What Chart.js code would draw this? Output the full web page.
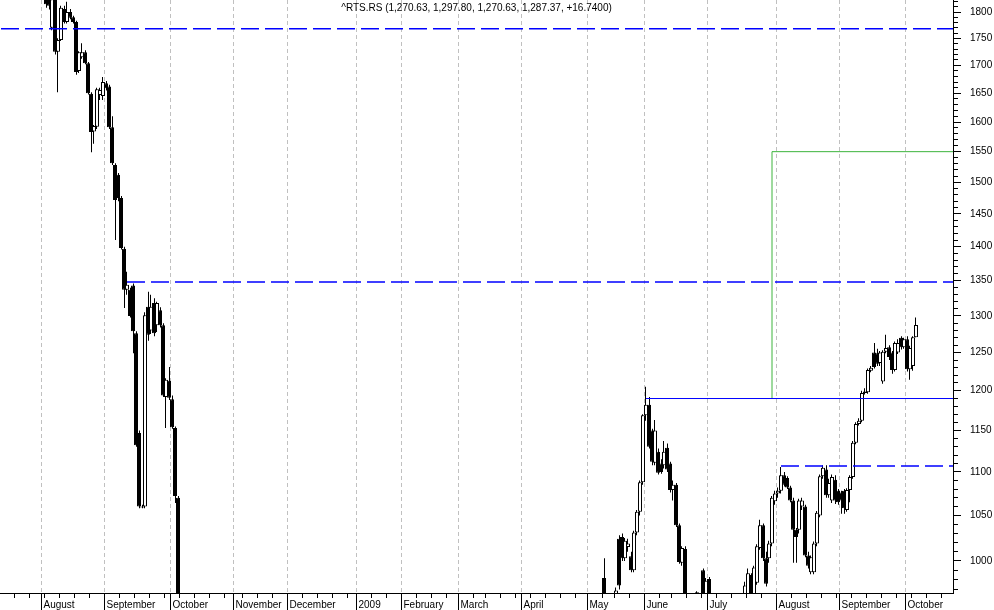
<!DOCTYPE html>
<html>
<head>
<meta charset="utf-8">
<title>^RTS.RS</title>
<script src="https://cdn.jsdelivr.net/npm/chart.js@4.4.1/dist/chart.umd.min.js"></script>
<style>
  html, body { margin: 0; padding: 0; background: #fff; }
  #wrap { position: relative; width: 994px; height: 610px; }
</style>
</head>
<body>
<div id="wrap"><canvas id="rts"></canvas></div>
<script>
// RTS trading calendar
const firstDay = '2008-07-14';
const lastDay = '2009-10-23';
const holidays = [
  '2008-10-27', '2008-10-28', '2008-11-03', '2008-11-04',
  '2009-01-01', '2009-01-02', '2009-01-05', '2009-01-06', '2009-01-07', '2009-01-08', '2009-01-09',
  '2009-02-23', '2009-03-09', '2009-05-01', '2009-05-11', '2009-06-12'
];
const monthNames = ['January', 'February', 'March', 'April', 'May', 'June', 'July',
  'August', 'September', 'October', 'November', 'December'];

// [open, high, low, close], one row per session, null = nothing inside the price window
const start2008 = '2008-08-04';
const candles2008 = [
  [1850, 1860, 1808, 1815], [1830, 1845, 1805, 1812], [1770, 1835, 1765, 1825], [1835, 1840, 1720, 1725], [1725, 1750, 1652, 1747],
  [1747, 1812, 1745, 1808], [1806, 1812, 1778, 1781], [1781, 1820, 1778, 1800], [1800, 1806, 1786, 1789], [1790, 1793, 1778, 1781],
  [1781, 1783, 1683, 1688], [1690, 1726, 1686, 1724], [1715, 1741, 1712, 1724], [1724, 1728, 1702, 1704], [1704, 1706, 1648, 1650],
  [1649, 1652, 1549, 1583], [1584, 1595, 1563, 1593], [1592, 1660, 1588, 1657], [1647, 1660, 1638, 1656], [1645, 1679, 1638, 1670],
  [1668, 1672, 1655, 1659], [1662, 1665, 1588, 1591], [1591, 1610, 1528, 1531], [1528, 1531, 1410, 1472], [1512, 1515, 1470, 1475],
  [1475, 1478, 1396, 1398], [1397, 1400, 1311, 1337], [1337, 1363, 1330, 1344], [1337, 1340, 1298, 1300], [1343, 1346, 1249, 1279],
  [1276, 1279, 1130, 1132], [1147, 1150, 1058, 1060], [1060, 1062, 1058, 1059], [1060, 1305, 1058, 1301], [1313, 1334, 1266, 1274],
  [1280, 1330, 1275, 1313], [1318, 1325, 1272, 1276], [1287, 1320, 1278, 1318], [1308, 1312, 1284, 1287], [1287, 1290, 1192, 1194],
  [1192, 1216, 1153, 1214], [1213, 1231, 1188, 1191], [1189, 1194, 1152, 1154], [1153, 1155, 1064, 1072], [1070, 1072, 880, 900]
];

const start2009 = '2009-05-12';
const candles2009 = [
  [982, 1003, 955, 958], null, null, null,
  [955, 972, 950, 969], [1024, 1028, 970, 974], [1026, 1030, 1000, 1003], [1003, 1025, 1000, 1022], [1015, 1024, 1010, 1019],
  [1005, 1010, 988, 990], [990, 1033, 988, 1031], [1031, 1056, 1028, 1054], [1054, 1090, 1050, 1088], [1088, 1170, 1085, 1169],
  [1169, 1205, 1162, 1182], [1182, 1192, 1128, 1130], [1150, 1152, 1108, 1112], [1111, 1163, 1108, 1150], [1124, 1128, 1097, 1099],
  [1110, 1115, 1098, 1100], [1108, 1137, 1104, 1124], [1129, 1134, 1100, 1103], [1110, 1112, 1076, 1079],
  [1079, 1090, 1067, 1085], [1085, 1087, 1037, 1039], [1039, 1041, 997, 999], [998, 1016, 995, 1014], [1013, 1016, 955, 958],
  null, null, null, [950, 968, 945, 967], null,
  [990, 992, 950, 955], [955, 982, 950, 979], [981, 983, 955, 960], null, null,
  null, null, null, null, null,
  null, null, null, null, [955, 978, 950, 974],
  [960, 992, 955, 987], [985, 987, 955, 960], [962, 995, 958, 993], [977, 1018, 975, 1016], [1014, 1045, 1012, 1039],
  [1039, 1041, 1000, 1003], [1003, 1010, 973, 976], [1003, 1022, 998, 1019], [1019, 1072, 1016, 1070], [1066, 1078, 1062, 1075],
  [1075, 1082, 1070, 1078], [1078, 1106, 1075, 1096], [1096, 1100, 1083, 1085], [1093, 1095, 1080, 1082], [1082, 1084, 1065, 1067],
  [1067, 1070, 998, 1034], [1034, 1036, 998, 1026], [1034, 1069, 1030, 1067], [1060, 1070, 1056, 1067], [1060, 1062, 1004, 1006],
  [1006, 1010, 992, 995], [988, 1006, 986, 1004], [988, 1021, 986, 1019], [1019, 1055, 1016, 1053], [1050, 1097, 1048, 1095],
  [1095, 1108, 1092, 1105], [1103, 1108, 1070, 1073], [1073, 1092, 1070, 1087], [1067, 1097, 1064, 1094], [1091, 1096, 1063, 1067],
  [1078, 1080, 1062, 1065], [1076, 1078, 1052, 1067], [1078, 1080, 1052, 1058], [1056, 1081, 1054, 1079], [1079, 1096, 1065, 1094],
  [1094, 1137, 1092, 1135], [1135, 1160, 1133, 1158], [1158, 1165, 1156, 1162], [1162, 1200, 1160, 1197], [1197, 1203, 1195, 1199],
  [1198, 1229, 1196, 1227], [1226, 1232, 1224, 1230], [1250, 1263, 1229, 1231], [1249, 1255, 1232, 1235], [1236, 1252, 1232, 1250],
  [1212, 1253, 1209, 1251], [1251, 1274, 1249, 1256], [1257, 1260, 1240, 1244], [1250, 1252, 1222, 1227], [1227, 1265, 1225, 1263],
  [1250, 1268, 1248, 1263], [1270, 1272, 1254, 1257], [1257, 1270, 1255, 1268],
  [1268, 1272, 1225, 1228], [1228, 1259, 1214, 1256], [1232, 1272, 1226, 1270.63], [1270.63, 1297.8, 1270.63, 1287.37]
];

// drawn levels: [price, from session]
const dashedLevels = [[1768, '2008-07-14'], [1348, '2008-09-10'], [1107, '2009-08-04']];
const solidLevels = [[1190, '2009-06-01']];
const targetFrom = '2009-07-30';
const targetLevels = [1190, 1550];

const yLabels = [1000, 1050, 1100, 1150, 1200, 1250, 1300, 1350, 1400, 1450, 1500, 1550, 1600, 1650, 1700, 1750, 1800];
const yMin = 966.3;
const yMax = 1823.3;
const xMin = -1 / 3;
const xMax = 317 + 1 / 3;

const FONT = '"Liberation Sans", Arial, sans-serif';

function tradingDays() {
  const out = [];
  const d = new Date(firstDay + 'T00:00:00Z');
  const end = new Date(lastDay + 'T00:00:00Z');
  while (d <= end) {
    const iso = d.toISOString().slice(0, 10);
    const wd = d.getUTCDay();
    if (wd !== 0 && wd !== 6 && !holidays.includes(iso)) out.push(iso);
    d.setUTCDate(d.getUTCDate() + 1);
  }
  return out;
}

const days = tradingDays();
const dayIndex = {};
days.forEach((iso, i) => { dayIndex[iso] = i; });
const lastIndex = days.length - 1;

function buildXTicks() {
  const ticks = [];
  let prev = null;
  days.forEach((iso, i) => {
    const cur = new Date(iso + 'T00:00:00Z');
    if (prev && cur.getUTCMonth() !== prev.getUTCMonth()) {
      const m = cur.getUTCMonth();
      ticks.push({ value: i - 0.5, label: m === 0 ? String(cur.getUTCFullYear()) : monthNames[m], month: true });
    } else if (prev && (cur.getUTCDay() < prev.getUTCDay() || cur - prev > 6 * 864e5)) {
      ticks.push({ value: i - 0.5, label: '', month: false });
    }
    prev = cur;
  });
  return ticks.filter(t => t.value >= xMin && t.value <= xMax);
}
const xTicks = buildXTicks();

const yTicks = [];
for (let v = 970; v <= 1820; v += 10) yTicks.push(v);

function candleSeries(startIso, rows) {
  const i0 = dayIndex[startIso];
  const out = [];
  rows.forEach((r, k) => {
    if (r) out.push({ x: i0 + k, o: r[0], h: r[1], l: r[2], c: r[3] });
  });
  return out;
}

const candles = candleSeries(start2008, candles2008).concat(candleSeries(start2009, candles2009));
const upDays = candles.filter(k => k.c >= k.o);
const downDays = candles.filter(k => k.c < k.o);

function levelData(value, fromIso) {
  return [{ x: dayIndex[fromIso], y: value }, { x: lastIndex, y: value }];
}

function fmt(v) {
  return v.toLocaleString('en-US', { minimumFractionDigits: 2, maximumFractionDigits: 2 });
}
const lastBar = candles[candles.length - 1];
const prevBar = candles[candles.length - 2];
const titleText = '^RTS.RS (' + [lastBar.o, lastBar.h, lastBar.l, lastBar.c].map(fmt).join(', ') +
  ', ' + (lastBar.c - prevBar.c >= 0 ? '+' : '') + (lastBar.c - prevBar.c).toFixed(4) + ')';

const quoteTitle = {
  id: 'quoteTitle',
  afterDraw(chart) {
    const { ctx, chartArea } = chart;
    ctx.save();
    ctx.font = '10px ' + FONT;
    ctx.fillStyle = '#000';
    ctx.textAlign = 'center';
    ctx.textBaseline = 'middle';
    ctx.fillText(titleText, (chartArea.left + chartArea.right) / 2, 8);
    ctx.restore();
  }
};

const bodyBase = { type: 'bar', borderColor: '#000', borderWidth: 1, borderSkipped: false, barThickness: 4,
  grouped: false, inflateAmount: 0, order: 2, clip: 0 };
const wickBase = { type: 'bar', backgroundColor: '#000', borderWidth: 0, barThickness: 1,
  grouped: true, inflateAmount: 0, order: 3, clip: 0 };
const lineBase = { type: 'line', pointRadius: 0, fill: false, tension: 0, order: 1, clip: 0 };

const datasets = [
  Object.assign({}, bodyBase, { label: 'up', backgroundColor: '#fff',
    data: upDays.map(k => ({ x: k.x, y: [k.o, k.c] })) }),
  Object.assign({}, bodyBase, { label: 'down', backgroundColor: '#000',
    data: downDays.map(k => ({ x: k.x, y: [k.c, k.o] })) }),
  Object.assign({}, wickBase, { label: 'up range', data: upDays.map(k => ({ x: k.x, y: [k.l, k.h] })) }),
  Object.assign({}, wickBase, { label: 'down range', data: downDays.map(k => ({ x: k.x, y: [k.l, k.h] })) })
];
dashedLevels.forEach(([v, from]) => {
  datasets.push(Object.assign({}, lineBase, { label: 'level ' + v, data: levelData(v, from),
    borderColor: '#0000ff', borderWidth: 1.5, borderDash: [18, 6] }));
});
solidLevels.forEach(([v, from]) => {
  datasets.push(Object.assign({}, lineBase, { label: 'level ' + v, data: levelData(v, from),
    borderColor: '#0000ff', borderWidth: 1 }));
});
datasets.push(Object.assign({}, lineBase, { label: 'target',
  data: [
    { x: dayIndex[targetFrom], y: targetLevels[0] },
    { x: dayIndex[targetFrom], y: targetLevels[1] },
    { x: lastIndex, y: targetLevels[1] }
  ],
  borderColor: '#3cb43c', borderWidth: 1 }));

new Chart(document.getElementById('rts'), {
  type: 'bar',
  data: { datasets },
  plugins: [quoteTitle],
  options: {
    responsive: true,
    maintainAspectRatio: false,
    animation: false,
    events: [],
    layout: { padding: 0 },
    plugins: {
      legend: { display: false },
      tooltip: { enabled: false },
      title: { display: false }
    },
    scales: {
      x: {
        type: 'linear',
        min: xMin,
        max: xMax,
        offset: false,
        stacked: false,
        afterBuildTicks: scale => { scale.ticks = xTicks.map(t => ({ value: t.value })); },
        afterFit: scale => { scale.height = 17; scale.paddingLeft = 0; scale.paddingRight = 0; },
        ticks: {
          autoSkip: false,
          maxRotation: 0,
          minRotation: 0,
          align: 'start',
          labelOffset: 2,
          padding: -11,
          color: '#000',
          font: { family: FONT, size: 10 },
          callback: (v, i) => (xTicks[i] ? xTicks[i].label : '')
        },
        grid: {
          offset: false,
          drawOnChartArea: true,
          color: ctx => (xTicks[ctx.index] && xTicks[ctx.index].month ? '#c0c0c0' : 'rgba(0,0,0,0)'),
          tickLength: 17,
          tickColor: '#000',
          tickBorderDash: ctx => (xTicks[ctx.index] && xTicks[ctx.index].month ? [] : [4, 40])
        },
        border: { display: true, color: '#000', width: 1, dash: [4, 3] }
      },
      y: {
        type: 'logarithmic',
        position: 'right',
        min: yMin,
        max: yMax,
        stacked: false,
        beginAtZero: false,
        afterBuildTicks: scale => { scale.ticks = yTicks.map(v => ({ value: v })); },
        afterFit: scale => { scale.width = 41; scale.paddingTop = 0; scale.paddingBottom = 0; },
        ticks: {
          autoSkip: false,
          padding: 9,
          color: '#000',
          font: { family: FONT, size: 10 },
          callback: v => (yLabels.includes(v) ? String(v) : '')
        },
        grid: {
          drawOnChartArea: false,
          tickLength: 8,
          tickColor: '#000',
          tickBorderDash: ctx => (ctx.tick && yLabels.includes(ctx.tick.value) ? [] : [4, 20])
        },
        border: { display: true, color: '#000', width: 1 }
      }
    }
  }
});
</script>
</body>
</html>
